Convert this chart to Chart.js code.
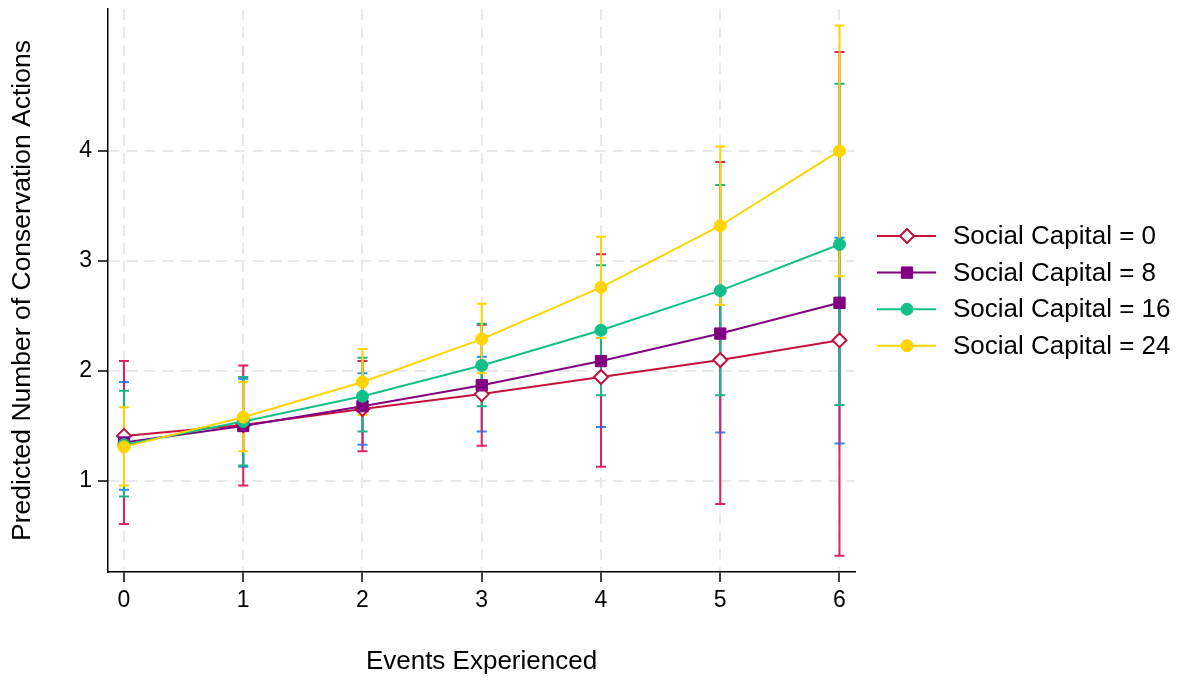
<!DOCTYPE html>
<html>
<head>
<meta charset="utf-8">
<script src="https://cdn.jsdelivr.net/npm/chart.js@4.4.1/dist/chart.umd.min.js"></script>
<style>
  html, body { margin: 0; padding: 0; background: #ffffff; }
  #wrap { width: 1179px; height: 680px; }
</style>
</head>
<body>
<div id="wrap"><canvas id="chart" width="1179" height="680"></canvas></div>
<script>
// ========================================
// Data
// ========================================
const events = [0, 1, 2, 3, 4, 5, 6];
const xTicks = [0, 1, 2, 3, 4, 5, 6];
const yTicks = [1, 2, 3, 4];

const seriesLabels = ['Social Capital = 0', 'Social Capital = 8', 'Social Capital = 16', 'Social Capital = 24'];

const sc0   = [1.41, 1.51, 1.655, 1.79, 1.945, 2.10, 2.28];
const sc0Lo = [0.92, 1.13, 1.33, 1.45, 1.49, 1.44, 1.34];
const sc0Hi = [1.90, 1.93, 1.98, 2.13, 2.40, 2.76, 3.21];

const sc8   = [1.35, 1.50, 1.68, 1.87, 2.09, 2.34, 2.62];
const sc8Lo = [0.61, 0.96, 1.27, 1.32, 1.13, 0.79, 0.32];
const sc8Hi = [2.09, 2.05, 2.09, 2.42, 3.06, 3.90, 4.90];

const sc16   = [1.33, 1.54, 1.77, 2.05, 2.37, 2.73, 3.15];
const sc16Lo = [0.86, 1.14, 1.45, 1.68, 1.78, 1.78, 1.69];
const sc16Hi = [1.82, 1.945, 2.12, 2.43, 2.96, 3.69, 4.61];

const sc24   = [1.31, 1.58, 1.90, 2.29, 2.76, 3.32, 4.00];
const sc24Lo = [0.96, 1.27, 1.60, 1.98, 2.30, 2.60, 2.86];
const sc24Hi = [1.67, 1.90, 2.20, 2.61, 3.22, 4.04, 5.14];

// ========================================
// Styles
// ========================================
const FONT = '"Liberation Sans", Arial, Helvetica, sans-serif';
const lineColors = ['#c4123d', '#800080', '#12bf88', '#ffd400'];
const ciColors   = ['#1e90ff', '#dc2360', '#18b585', '#ffd400'];

function toPoints(values) {
    return events.map((x, i) => ({ x: x, y: values[i] }));
}

const ciLows  = [sc0Lo, sc8Lo, sc16Lo, sc24Lo];
const ciHighs = [sc0Hi, sc8Hi, sc16Hi, sc24Hi];

// ========================================
// Plugins
// ========================================
const errorBars = {
    id: 'errorBars',
    beforeDatasetsDraw(chart) {
        const ctx = chart.ctx;
        const xs = chart.scales.x;
        const ys = chart.scales.y;
        ctx.save();
        ctx.lineWidth = 2;
        for (let s = 0; s < ciLows.length; s++) {
            ctx.strokeStyle = ciColors[s];
            events.forEach((ev, i) => {
                const px = xs.getPixelForValue(ev);
                const lo = ys.getPixelForValue(ciLows[s][i]);
                const hi = ys.getPixelForValue(ciHighs[s][i]);
                ctx.beginPath();
                ctx.moveTo(px, lo);
                ctx.lineTo(px, hi);
                ctx.moveTo(px - 5, lo);
                ctx.lineTo(px + 5, lo);
                ctx.moveTo(px - 5, hi);
                ctx.lineTo(px + 5, hi);
                ctx.stroke();
            });
        }
        ctx.restore();
    }
};

const sideLegend = {
    id: 'sideLegend',
    afterDraw(chart) {
        const ctx = chart.ctx;
        ctx.save();
        [0, 1, 2, 3].forEach((i) => {
            const ds = chart.data.datasets[i];
            const y = 236 + i * 36.6;
            ctx.strokeStyle = ds.borderColor;
            ctx.lineWidth = 2;
            ctx.beginPath();
            ctx.moveTo(877, y);
            ctx.lineTo(936, y);
            ctx.stroke();
            ctx.fillStyle = ds.pointBackgroundColor;
            ctx.strokeStyle = ds.borderColor;
            ctx.lineWidth = ds.pointBorderWidth;
            Chart.helpers.drawPoint(ctx, {
                pointStyle: ds.pointStyle,
                radius: ds.pointRadius,
                borderWidth: ds.pointBorderWidth
            }, 907, y);
            ctx.fillStyle = '#000000';
            ctx.font = '26px ' + FONT;
            ctx.textBaseline = 'middle';
            ctx.textAlign = 'left';
            ctx.fillText(seriesLabels[i], 953, y + 1);
        });
        ctx.restore();
    }
};

// ========================================
// Chart
// ========================================
const ctx = document.getElementById('chart').getContext('2d');

new Chart(ctx, {
    type: 'line',
    data: {
        datasets: [
            {
                label: seriesLabels[0], data: toPoints(sc0), order: 3,
                borderColor: lineColors[0], backgroundColor: lineColors[0],
                pointStyle: 'rectRot', pointRadius: 7, pointBorderWidth: 2,
                pointBackgroundColor: '#ffffff', pointBorderColor: lineColors[0]
            },
            {
                label: seriesLabels[1], data: toPoints(sc8), order: 2,
                borderColor: lineColors[1], backgroundColor: lineColors[1],
                pointStyle: 'rect', pointRadius: 8, pointBorderWidth: 1,
                pointBackgroundColor: lineColors[1], pointBorderColor: lineColors[1]
            },
            {
                label: seriesLabels[2], data: toPoints(sc16), order: 1,
                borderColor: lineColors[2], backgroundColor: lineColors[2],
                pointStyle: 'circle', pointRadius: 6, pointBorderWidth: 1,
                pointBackgroundColor: lineColors[2], pointBorderColor: lineColors[2]
            },
            {
                label: seriesLabels[3], data: toPoints(sc24), order: 0,
                borderColor: lineColors[3], backgroundColor: lineColors[3],
                pointStyle: 'circle', pointRadius: 6, pointBorderWidth: 1,
                pointBackgroundColor: lineColors[3], pointBorderColor: lineColors[3]
            }
        ]
    },
    options: {
        responsive: false,
        animation: false,
        elements: { line: { borderWidth: 2, tension: 0 } },
        layout: { padding: { top: 9, right: 324, left: 0, bottom: 0 } },
        plugins: {
            legend: { display: false },
            tooltip: { enabled: false }
        },
        scales: {
            x: {
                type: 'linear',
                min: -0.134,
                max: 6.13,
                afterBuildTicks: (scale) => { scale.ticks = xTicks.map(v => ({ value: v })); },
                afterFit: (scale) => { scale.height = 108; scale.paddingLeft = 0; scale.paddingRight = 0; },
                ticks: {
                    color: '#000000',
                    padding: 5,
                    font: { family: FONT, size: 23 }
                },
                grid: {
                    color: '#e9e9e9',
                    lineWidth: 2,
                    tickColor: '#000000',
                    tickLength: 10,
                    tickWidth: 1.5
                },
                border: { display: true, color: '#000000', width: 1.5, dash: [11, 7] },
                title: {
                    display: true,
                    text: 'Events Experienced',
                    color: '#000000',
                    font: { family: FONT, size: 26 },
                    padding: { top: 4, bottom: 3 }
                }
            },
            y: {
                type: 'linear',
                min: 0.173,
                max: 5.29,
                afterBuildTicks: (scale) => { scale.ticks = yTicks.map(v => ({ value: v })); },
                afterFit: (scale) => { scale.width = 108; scale.paddingTop = 0; scale.paddingBottom = 0; },
                ticks: {
                    color: '#000000',
                    padding: 6,
                    font: { family: FONT, size: 23 }
                },
                grid: {
                    color: '#e9e9e9',
                    lineWidth: 2,
                    tickColor: '#000000',
                    tickLength: 10,
                    tickWidth: 1.5
                },
                border: { display: true, color: '#000000', width: 1.5, dash: [11, 7] },
                title: {
                    display: true,
                    text: 'Predicted Number of Conservation Actions',
                    color: '#000000',
                    font: { family: FONT, size: 26.5 },
                    padding: { top: 7, bottom: 4 }
                }
            }
        }
    },
    plugins: [errorBars, sideLegend]
});
</script>
</body>
</html>
